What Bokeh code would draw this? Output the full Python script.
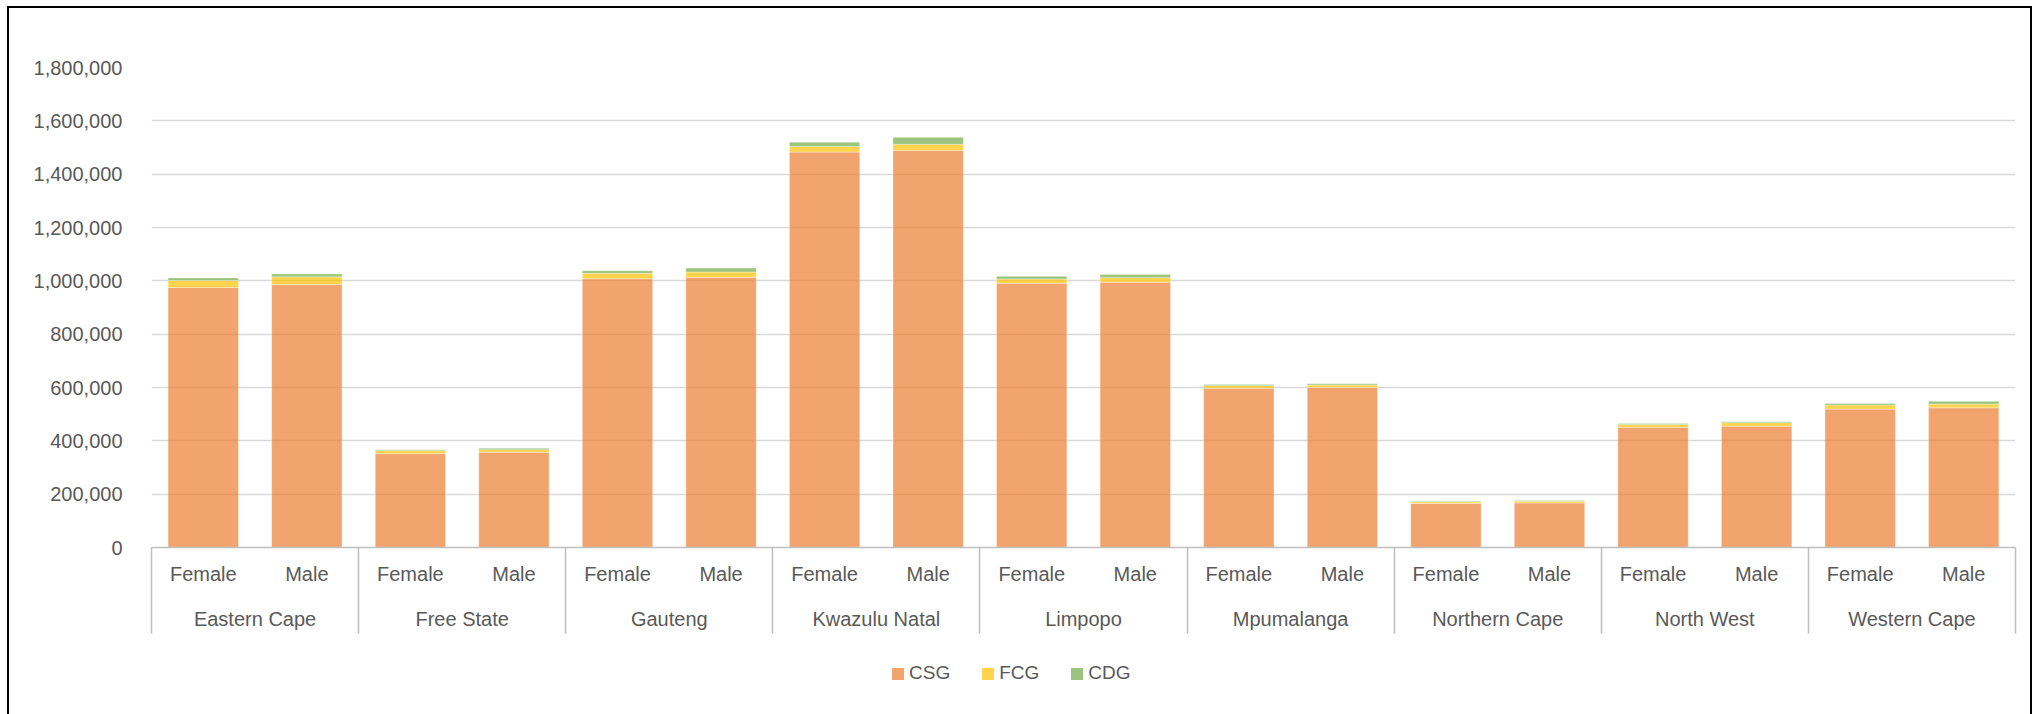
from bokeh.plotting import figure
from bokeh.layouts import column
from bokeh.models import (FactorRange, Range1d, CategoricalAxis, FixedTicker,
                          NumeralTickFormatter, Legend, LegendItem, ColumnDataSource,
                          CustomJSTickFormatter)
from bokeh.embed import file_html
from bokeh.resources import INLINE

provinces = ["Eastern Cape", "Free State", "Gauteng", "Kwazulu Natal", "Limpopo",
             "Mpumalanga", "Northern Cape", "North West", "Western Cape"]
sexes = ["Female", "Male"]
series = ["CSG", "FCG", "CDG"]
csg = [975000, 986000, 352000, 357000, 1008000, 1013000, 1483000, 1489000, 991000, 995000,
       597000, 600000, 165000, 167000, 451000, 455000, 519000, 524000]
fcg = [26000, 29000, 11000, 10000, 20000, 20000, 21000, 23000, 16000, 17000,
       10000, 9000, 6000, 6000, 10000, 13000, 15000, 14000]
cdg = [10000, 11000, 4000, 5000, 10000, 15000, 16000, 26000, 10000, 12000,
       4000, 5000, 2000, 3000, 4000, 4000, 6000, 10000]
y_ticks = [0, 200000, 400000, 600000, 800000, 1000000, 1200000, 1400000, 1600000, 1800000]
colors = ["#ED7D31", "#FFC000", "#70AD47"]

FONT = "Liberation Sans"
TXT = "#595959"

x = [(pv, s) for pv in provinces for s in sexes]
src = ColumnDataSource(dict(x=x, CSG=csg, FCG=fcg, CDG=cdg))

xr = FactorRange(*x, range_padding=0, factor_padding=0, group_padding=0, subgroup_padding=0)
p = figure(width=2025, height=644, x_range=xr, y_range=Range1d(y_ticks[0], y_ticks[-1]),
           output_backend="svg", toolbar_location=None, x_axis_location=None,
           min_border_left=142, min_border_right=19, min_border_top=59, min_border_bottom=105,
           outline_line_color=None, background_fill_color="white", border_fill_color="white")
p.styles = {"margin-left": "7px", "margin-top": "6px",
            "border-top": "2px solid black", "border-left": "2px solid black",
            "border-right": "2px solid black"}

# boundary factors: one per group edge, padded so their centres sit on the edges
bounds = ["b%d" % i for i in range(len(provinces) + 1)]
flat = ["%s|%s" % f for f in x]
p.extra_x_ranges = {
    "sep": FactorRange(*bounds, factor_padding=0, range_padding=-0.499, range_padding_units="absolute"),
    "sub": FactorRange(*flat, factor_padding=0, range_padding=0),
    "prov": FactorRange(*provinces, range_padding=0, factor_padding=0),
}

rs = p.vbar_stack(series, x="x", width=0.68, source=src, color=colors, fill_alpha=0.7,
                  line_color="white", line_alpha=0.35, line_width=1)

p.xgrid.visible = False
p.ygrid.grid_line_color = "#D9D9D9"
p.ygrid.grid_line_width = 1.5
p.ygrid.ticker = FixedTicker(ticks=y_ticks)

ya = p.yaxis[0]
ya.ticker = FixedTicker(ticks=y_ticks)
ya.formatter = NumeralTickFormatter(format="0,0")
ya.axis_line_color = None
ya.major_tick_line_color = None
ya.minor_tick_line_color = None
ya.major_label_standoff = 23
ya.major_label_text_font = FONT
ya.major_label_text_font_size = "20px"
ya.major_label_text_color = TXT

sep = CategoricalAxis(x_range_name="sep", major_tick_in=-86, major_tick_out=0,
                      formatter=CustomJSTickFormatter(code="return ''"),
                      major_label_standoff=0,
                      axis_line_color="#BFBFBF", axis_line_width=1.5,
                      major_tick_line_color="#BFBFBF", major_tick_line_width=1.5)
p.add_layout(sep, "below")

sub = CategoricalAxis(x_range_name="sub", major_tick_line_color=None, axis_line_color=None,
                      formatter=CustomJSTickFormatter(code="return tick.split('|')[1]"),
                      major_label_text_font=FONT, major_label_text_font_size="20px",
                      major_label_text_color=TXT, major_label_standoff=9)
p.add_layout(sub, "below")

prov = CategoricalAxis(x_range_name="prov", major_tick_line_color=None, axis_line_color=None,
                       major_label_text_font=FONT, major_label_text_font_size="20px",
                       major_label_text_color=TXT, major_label_standoff=14)
p.add_layout(prov, "below")

# legend strip below the chart (its frame is aligned with the chart's frame)
pl = figure(width=2025, height=64, x_range=Range1d(0, 1), y_range=Range1d(0, 1),
            output_backend="svg", toolbar_location=None, x_axis_location=None,
            y_axis_location=None, min_border=0, outline_line_color=None,
            background_fill_color="white", border_fill_color="white")
pl.styles = {"margin-left": "7px", "border-left": "2px solid black",
             "border-right": "2px solid black"}
pl.grid.visible = False
swatches = [pl.vbar(x=[0.5], top=[float("nan")], width=1, color=c, fill_alpha=0.7,
                    line_color=None) for c in colors]
legend = Legend(items=[LegendItem(label=s, renderers=[r]) for s, r in zip(series, swatches)],
                orientation="horizontal", location=(739, 30), padding=0, margin=0,
                border_line_color=None, background_fill_alpha=0,
                glyph_width=15, glyph_height=15, label_standoff=4, spacing=30,
                label_text_font=FONT, label_text_font_size="19px", label_text_color=TXT)
pl.add_layout(legend, "center")

open("out.html", "w").write(file_html(column(p, pl, spacing=0), INLINE))
